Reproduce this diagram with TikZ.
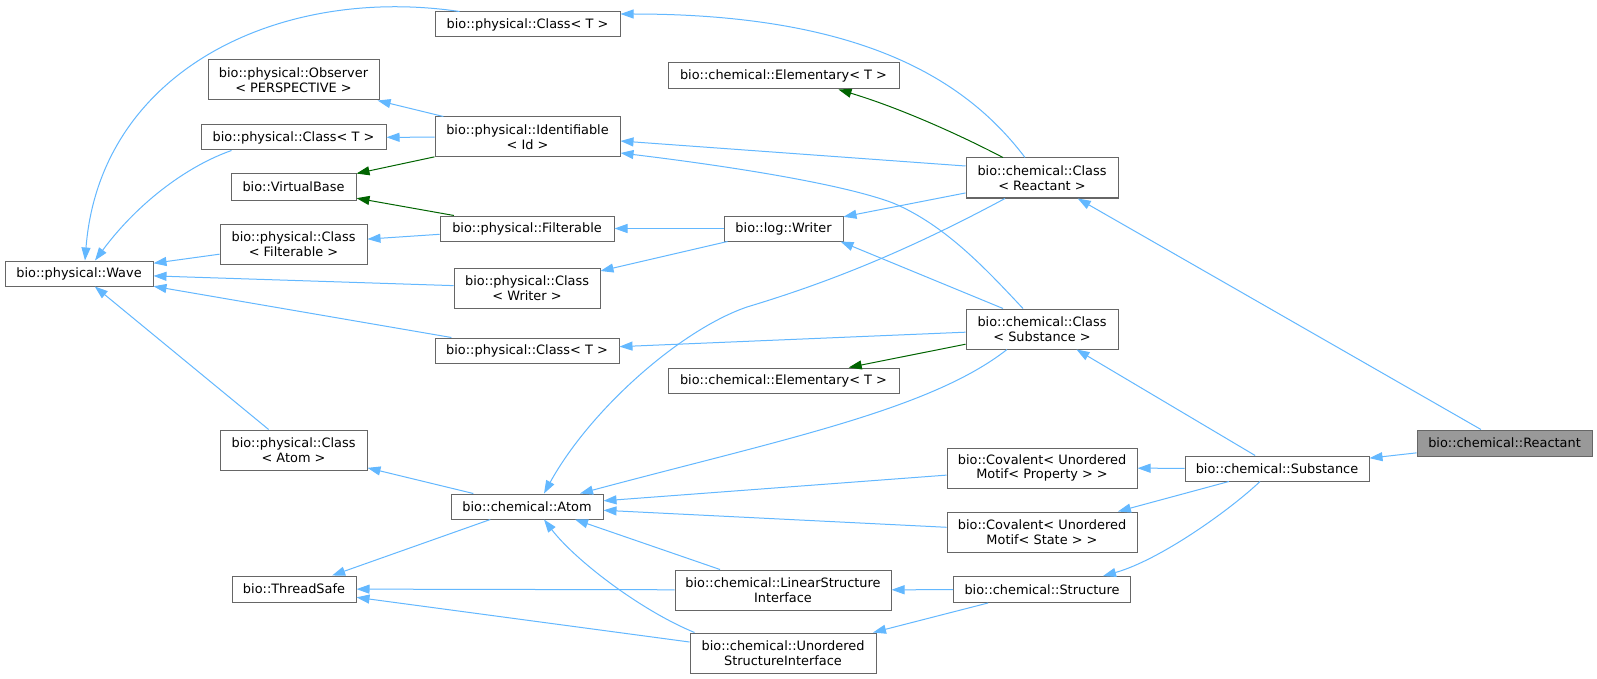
\documentclass[tikz,border=0pt]{standalone}
\usepackage{fontspec}
\setmainfont{DejaVu Sans}
\usetikzlibrary{arrows.meta}
\definecolor{edgeblue}{HTML}{63B8FF}
\definecolor{edgegreen}{HTML}{006400}
\definecolor{boxgray}{HTML}{666666}
\definecolor{curfill}{HTML}{999999}
\begin{document}
\begin{tikzpicture}[x=1pt,y=-1pt,
  cls/.style={draw=boxgray, line width=1pt, fill=white, inner sep=0pt, align=center,
              font=\fontsize{12.9}{14.4}\selectfont},
  cur/.style={cls, fill=curfill},
  pub/.style={draw=edgeblue, line width=1pt, -{Triangle[length=13pt,width=9pt]}},
  prot/.style={pub, draw=edgegreen}
]
\fill[white] (0,0) rectangle (1597,679);
\useasboundingbox (0,0) rectangle (1597,679);

% column 1
\node[cls, minimum width=148, minimum height=25] (wave) at (79,273.5) {bio::physical::Wave};
% column 2
\node[cls, minimum width=171, minimum height=40] (obs) at (293.5,80) {bio::physical::Observer\\< PERSPECTIVE >};
\node[cls, minimum width=185, minimum height=25] (ct2) at (293.5,137.5) {bio::physical::Class< T >};
\node[cls, minimum width=125, minimum height=26] (vbase) at (293.5,187) {bio::VirtualBase};
\node[cls, minimum width=147, minimum height=40] (cfilt) at (293.5,244) {bio::physical::Class\\< Filterable >};
\node[cls, minimum width=147, minimum height=40] (catom) at (293.5,450) {bio::physical::Class\\< Atom >};
\node[cls, minimum width=124, minimum height=26] (tsafe) at (294,589) {bio::ThreadSafe};
% column 3
\node[cls, minimum width=185, minimum height=25] (ctop) at (527.5,24.5) {bio::physical::Class< T >};
\node[cls, minimum width=185, minimum height=40] (ident) at (527.5,137) {bio::physical::Identifiable\\< Id >};
\node[cls, minimum width=174, minimum height=25] (filt) at (527,228.5) {bio::physical::Filterable};
\node[cls, minimum width=146, minimum height=40] (cwriter) at (527,288) {bio::physical::Class\\< Writer >};
\node[cls, minimum width=184, minimum height=25] (ct3) at (527,350.5) {bio::physical::Class< T >};
\node[cls, minimum width=152, minimum height=25] (atom) at (527,506.5) {bio::chemical::Atom};
% column 4
\node[cls, minimum width=231, minimum height=26] (elem1) at (783.5,76) {bio::chemical::Elementary< T >};
\node[cls, minimum width=119, minimum height=25] (writer) at (783.5,228.5) {bio::log::Writer};
\node[cls, minimum width=231, minimum height=25] (elem2) at (783.5,380.5) {bio::chemical::Elementary< T >};
\node[cls, minimum width=216, minimum height=40] (linear) at (783,590) {bio::chemical::LinearStructure\\Interface};
\node[cls, minimum width=186, minimum height=40] (unord) at (783,653) {bio::chemical::Unordered\\StructureInterface};
% column 5
\node[cls, minimum width=152, minimum height=40] (creact) at (1042,178) {bio::chemical::Class\\< Reactant >};
\node[cls, minimum width=152, minimum height=40] (csubst) at (1042,329) {bio::chemical::Class\\< Substance >};
\node[cls, minimum width=190, minimum height=40] (covp) at (1042,468) {bio::Covalent< Unordered\\Motif< Property > >};
\node[cls, minimum width=190, minimum height=40] (covs) at (1042,532) {bio::Covalent< Unordered\\Motif< State > >};
\node[cls, minimum width=177, minimum height=26] (struct) at (1042,589.5) {bio::chemical::Structure};
% column 6, 7
\node[cls, minimum width=184, minimum height=25] (subst) at (1277,468.5) {bio::chemical::Substance};
\node[cur, minimum width=175, minimum height=26] (react) at (1504.5,443) {bio::chemical::Reactant};

% edges (arrow at the base class)
\draw[pub] (react) -- (subst);
\draw[pub] (react) -- (creact);
\draw[pub] (subst) -- (csubst);
\draw[pub] (subst) -- (covp);
\draw[pub] (subst) -- (covs);
\draw[pub] ([xshift=-17]subst.south) .. controls (1230,510) and (1160,560) .. ([xshift=61]struct.north);
\draw[pub] ([xshift=-54]struct.south) -- ([xshift=90]unord.north);
\draw[pub] (struct) -- (linear);
\draw[pub] ([xshift=-63]linear.north) -- ([xshift=48]atom.south);
\draw[pub] (linear) -- (tsafe);
\draw[pub] ([xshift=5]unord.north west) .. controls (640,610) and (575,560) .. ([xshift=17]atom.south);
\draw[pub] ([yshift=11]unord.west) -- (tsafe);
\draw[pub] (atom) -- (tsafe);
\draw[pub] (atom) -- (catom);
\draw[pub] (catom) -- (wave);
\draw[pub] (covp) -- (atom);
\draw[pub] (covs) -- (atom);
\draw[pub] ([xshift=-35]csubst.south) .. controls (930,410) and (780,440) .. ([xshift=53]atom.north);
\draw[pub] ([xshift=-37]creact.south) .. controls (900,255) and (820,285) .. (747,307)
           .. controls (680,330) and (590,410) .. ([xshift=17]atom.north);
\draw[pub] ([xshift=-39]csubst.north) -- ([xshift=-3]writer.south east);
\draw[pub] ([xshift=-19]csubst.north) .. controls (985,268) and (945,225) .. (893,203)
           .. controls (840,183) and (720,165) .. ([yshift=-16]ident.east);
\draw[pub] (csubst) -- (ct3);
\draw[prot] (csubst) -- (elem2);
\draw[prot] ([xshift=-39]creact.north) .. controls (960,135) and (900,108) .. ([xshift=55]elem1.south);
\draw[pub] ([yshift=12]creact.west) -- ([yshift=-4]ident.east);
\draw[pub] (creact) -- (writer);
\draw[pub] ([xshift=-17]creact.north) .. controls (970,85) and (870,14) .. ([yshift=10.5]ctop.east);
\draw[pub] (writer) -- (filt);
\draw[pub] (writer) -- (cwriter);
\draw[pub] (filt) -- (cfilt);
\draw[prot] (filt) -- (vbase);
\draw[prot] (ident) -- (vbase);
\draw[pub] (ident) -- (ct2);
\draw[pub] (ident) -- (obs);
\draw[pub] (cfilt) -- (wave);
\draw[pub] (cwriter) -- (wave);
\draw[pub] (ct3) -- (wave);
\draw[pub] ([xshift=-68]ctop.north) .. controls (280,-15) and (100,70) .. ([xshift=6]wave.north);
\draw[pub] ([xshift=-62]ct2.south) .. controls (190,165) and (140,200) .. ([xshift=16]wave.north);
\end{tikzpicture}
\end{document}
